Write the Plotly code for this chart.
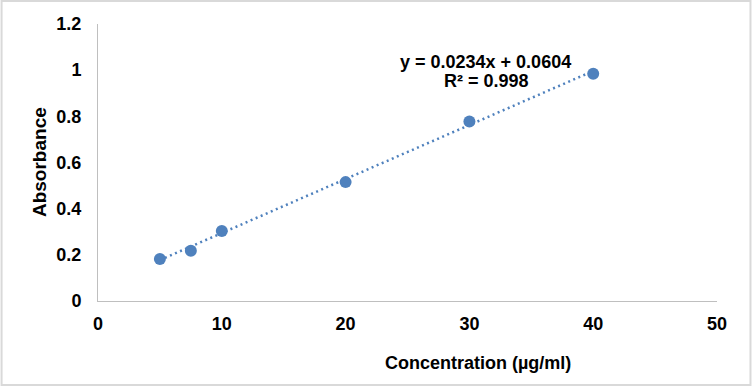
import plotly.graph_objects as go

# Data
concentration = [5, 7.5, 10, 20, 30, 40]
absorbance = [0.182, 0.218, 0.303, 0.515, 0.778, 0.984]
slope = 0.0234
intercept = 0.0604
r_squared = 0.998

x_ticks = [0, 10, 20, 30, 40, 50]
y_ticks = [0, 0.2, 0.4, 0.6, 0.8, 1.0, 1.2]
y_tick_text = ["0", "0.2", "0.4", "0.6", "0.8", "1", "1.2"]

BLUE = "#4F81BD"
FONT = "Liberation Sans, Arial, sans-serif"

W, H = 752, 389
L, R, T, B = 97.5, 35, 24, 88
PW = W - L - R
PH = H - T - B


def px(xp):
    return (xp - L) / PW


def py(yp):
    return (H - B - yp) / PH


trend_x = [min(concentration), max(concentration)]
trend_y = [slope * v + intercept for v in trend_x]

fig = go.Figure()
fig.add_trace(go.Scatter(
    x=trend_x, y=trend_y, mode="lines",
    line=dict(color=BLUE, width=2.5, dash="2px,3.5px"),
    hoverinfo="skip", showlegend=False,
))
fig.add_trace(go.Scatter(
    x=concentration, y=absorbance, mode="markers",
    marker=dict(color=BLUE, size=12, line=dict(width=0)),
    showlegend=False,
))

fig.update_layout(
    width=W, height=H,
    margin=dict(l=L, r=R, t=T, b=B, pad=0),
    paper_bgcolor="white", plot_bgcolor="white",
    font=dict(family=FONT, size=17, color="black"),
    xaxis=dict(
        range=[0, 50], tickvals=x_ticks, ticktext=[str(v) for v in x_ticks],
        showgrid=False, zeroline=False, showline=True, linecolor="#BFBFBF",
        linewidth=1, ticks="", ticklabelstandoff=6,
        tickfont=dict(family=FONT, size=18, color="black", weight="bold"),
        fixedrange=True,
    ),
    yaxis=dict(
        range=[0, 1.2], tickvals=y_ticks, ticktext=y_tick_text,
        showgrid=False, zeroline=False, showline=True, linecolor="#BFBFBF",
        linewidth=1, ticks="", ticklabelstandoff=12,
        tickfont=dict(family=FONT, size=18, color="black", weight="bold"),
        fixedrange=True,
    ),
    shapes=[dict(
        type="rect", xref="paper", yref="paper",
        x0=px(1), x1=px(750.5), y0=py(385), y1=py(1),
        line=dict(color="#D9D9D9", width=2), layer="below",
    )],
    annotations=[
        dict(text="<b>Absorbance</b>", xref="paper", yref="paper",
             x=px(38.5), y=py(162), textangle=-90, showarrow=False,
             xanchor="center", yanchor="middle",
             font=dict(family=FONT, size=19, color="black")),
        dict(text="<b>Concentration (µg/ml)</b>", xref="paper", yref="paper",
             x=px(478), y=py(363), showarrow=False,
             xanchor="center", yanchor="middle",
             font=dict(family=FONT, size=18, color="black")),
        dict(text=f"<b>y = {slope}x + {intercept}</b>", xref="paper", yref="paper",
             x=px(485), y=py(62), showarrow=False,
             xanchor="center", yanchor="middle",
             font=dict(family=FONT, size=18, color="black")),
        dict(text=f"<b>R² = {r_squared}</b>", xref="paper", yref="paper",
             x=px(486), y=py(81), showarrow=False,
             xanchor="center", yanchor="middle",
             font=dict(family=FONT, size=18, color="black")),
    ],
)

fig.write_html("out.html", config={"displayModeBar": False},
               post_script="document.body.style.margin='0';")
